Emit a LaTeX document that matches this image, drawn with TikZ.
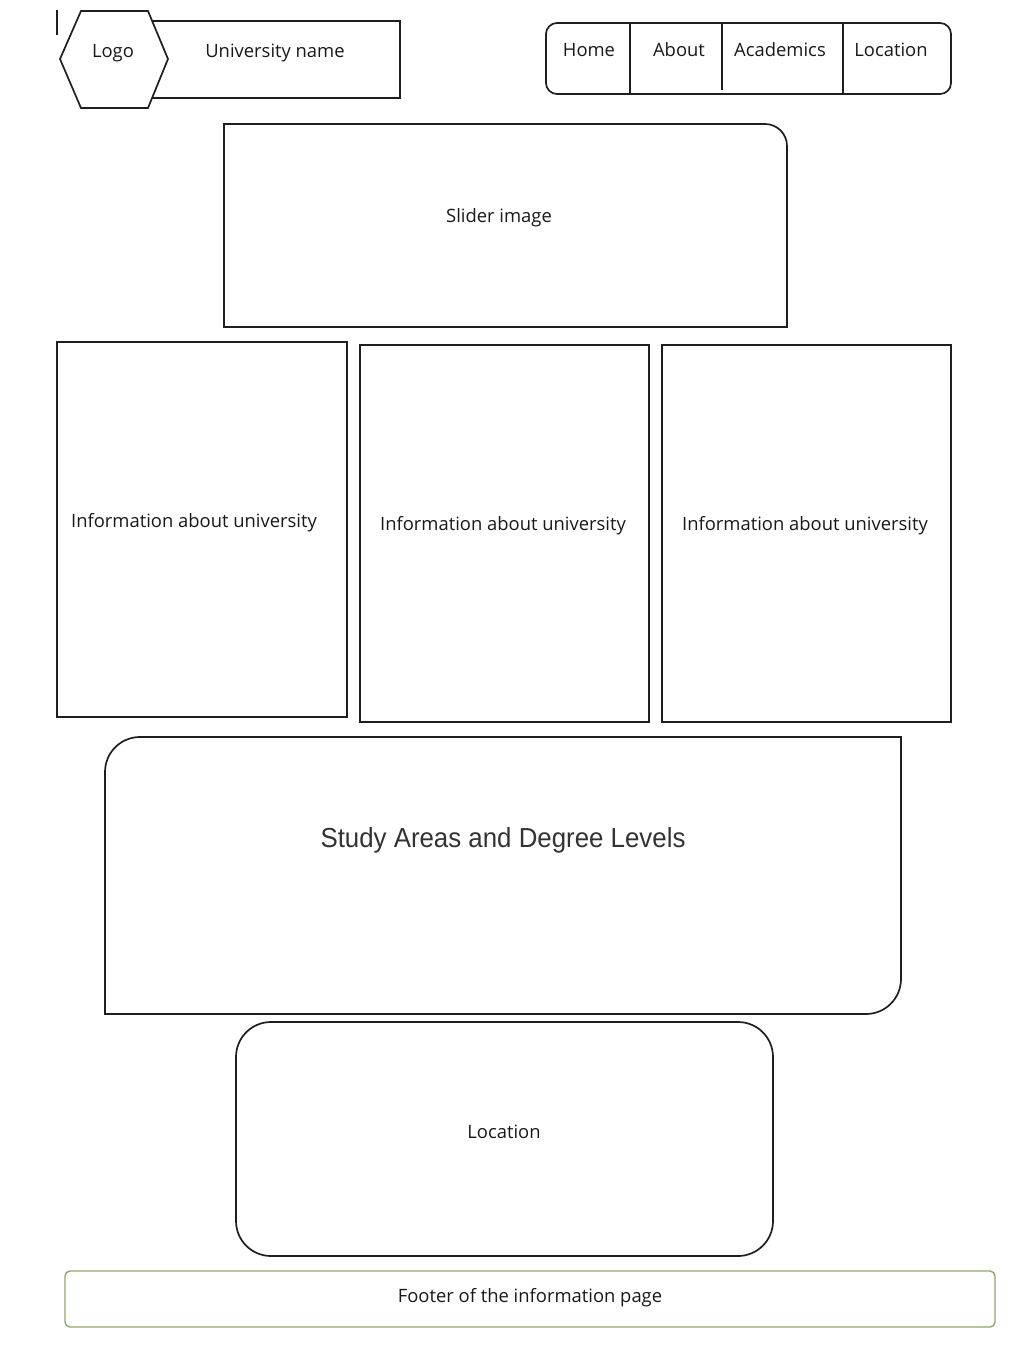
\documentclass[tikz,border=0pt]{standalone}
\usepackage{fontspec}
\setmainfont{Open Sans}
\newfontfamily\titlefont[FakeStretch=0.94]{Liberation Sans}
\begin{document}
\begin{tikzpicture}[x=1pt,y=-1pt,
  box/.style={draw=black!88,line width=1.7pt},
  label/.style={font=\fontsize{18.4}{21}\selectfont,text=black!90,inner sep=0pt,yshift=-2pt},
  footerline/.style={draw=footgreen,line width=1.4pt}]
\definecolor{footgreen}{HTML}{8FA56E}
\useasboundingbox (0,0) rectangle (1020,1348);
\fill[white] (0,0) rectangle (1020,1348);

% header: short mark, university name bar and logo hexagon
\draw[box] (57,10) -- (57,35);
\draw[box] (148,21) rectangle (400,98);
\draw[box,fill=white] (60,59) -- (81,11) -- (148,11) -- (168,59) -- (148,108) -- (81,108) -- cycle;
\node[label] (logo) at (113,51) {Logo};
\node[label] (uniname) at (275,51) {University name};

% navigation bar
\draw[box,rounded corners=11pt] (546,23) rectangle (951,94);
\draw[box] (630,23) -- (630,94);
\draw[box] (722,23) -- (722,90);
\draw[box] (843,23) -- (843,94);
\node[label] (home) at (589,48) {Home};
\node[label] (about) at (679,48) {About};
\node[label] (acad) at (780,48) {Academics};
\node[label] (loc) at (891,48) {Location};

% slider (top right corner rounded)
\draw[box] (224,124) -- (765,124) arc[start angle=270,end angle=360,radius=22] -- (787,327) -- (224,327) -- cycle;
\node[label] (slider) at (499,216) {Slider image};

% information columns
\draw[box] (57,342) rectangle (347,717);
\draw[box] (360,345) rectangle (649,722);
\draw[box] (662,345) rectangle (951,722);
\node[label] (info1) at (194,521) {Information about university};
\node[label] (info2) at (503,524) {Information about university};
\node[label] (info3) at (805,524) {Information about university};

% study areas (top left and bottom right corners rounded)
\draw[box] (140,737) -- (901,737) -- (901,979) arc[start angle=0,end angle=90,radius=35] -- (105,1014) -- (105,772) arc[start angle=180,end angle=270,radius=35] -- cycle;
\node[inner sep=0pt,text=black!80,font=\titlefont\fontsize{27.5}{31}\selectfont,yshift=-2pt] (study) at (503,838) {Study Areas and Degree Levels};

% location
\draw[box,rounded corners=35pt] (236,1022) rectangle (773,1256);
\node[label] (location) at (504,1130) {Location};

% footer
\draw[footerline,rounded corners=5pt] (65,1271) rectangle (995,1327);
\node[label] (footer) at (530,1296) {Footer of the information page};
\end{tikzpicture}
\end{document}
